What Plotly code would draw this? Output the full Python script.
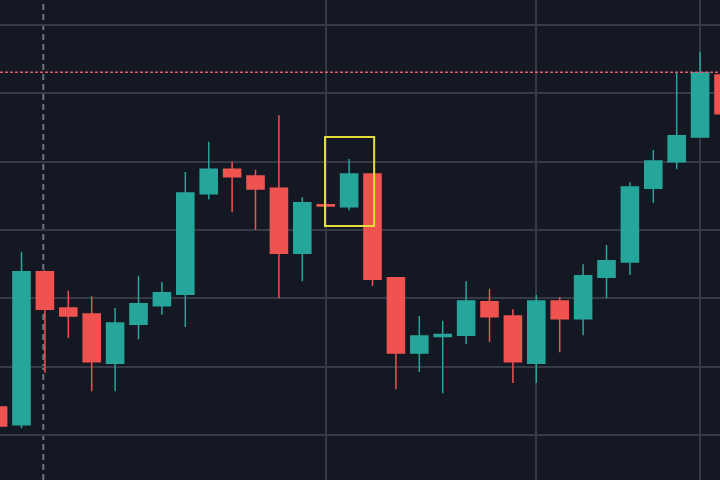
import plotly.graph_objects as go

# candle index and OHLC values (price units; grid every 1.0)
idx = list(range(32))
opens = [100.41, 100.15, 102.39, 101.86, 101.77, 101.05, 101.62, 101.89,
         102.06, 103.53, 103.89, 103.79, 103.61, 102.66, 103.37, 103.34,
         103.82, 102.30, 101.20, 101.44, 101.46, 101.95, 101.74, 101.05,
         101.96, 101.70, 102.31, 102.53, 103.61, 104.00, 104.36, 105.27]
highs = [100.43, 102.68, 102.41, 102.11, 102.03, 101.86, 102.33, 102.24,
         103.85, 104.29, 104.00, 103.88, 104.68, 103.48, 103.37, 104.04,
         103.82, 102.30, 101.74, 101.67, 102.25, 102.14, 101.84, 102.05,
         102.02, 102.50, 102.78, 103.70, 104.17, 105.30, 105.61, 105.29]
lows = [100.12, 100.10, 100.91, 101.42, 100.64, 100.64, 101.40, 101.76,
        101.58, 103.45, 103.26, 103.00, 102.00, 102.25, 103.35, 103.29,
        102.18, 100.67, 100.92, 100.61, 101.33, 101.36, 100.76, 100.76,
        101.21, 101.46, 102.00, 102.34, 103.40, 103.89, 104.35, 104.68]
closes = [100.13, 102.39, 101.84, 101.74, 101.07, 101.64, 101.92, 102.08,
          103.54, 103.89, 103.78, 103.60, 102.66, 103.40, 103.35, 103.82,
          102.28, 101.20, 101.45, 101.47, 101.96, 101.73, 101.07, 101.96,
          101.70, 102.33, 102.55, 103.63, 104.01, 104.38, 105.30, 104.70]

last_price = 105.31
grid_x = [14, 23, 30]
session_x = 2
highlight = 15

UP = "#26a69a"
DOWN = "#ef5350"
BG = "#141823"
GRID = "#363a46"

fig = go.Figure(go.Candlestick(
    x=idx, open=opens, high=highs, low=lows, close=closes,
    increasing=dict(line=dict(color=UP, width=1.5), fillcolor=UP),
    decreasing=dict(line=dict(color=DOWN, width=1.5), fillcolor=DOWN),
    whiskerwidth=0, showlegend=False, hoverinfo="skip",
))

# dashed session line
fig.add_shape(type="line", xref="x", yref="paper",
              x0=session_x - 0.07, x1=session_x - 0.07, y0=0, y1=1,
              line=dict(color="#70747e", width=2, dash="6px,4px"), layer="below")

# last price line
fig.add_shape(type="line", xref="paper", yref="y",
              x0=0, x1=1, y0=last_price, y1=last_price,
              line=dict(color="#e0606f", width=1.5, dash="3px,2px"))

# highlight box around one candle
fig.add_shape(type="rect", xref="x", yref="y",
              x0=highlight - 1.03, x1=highlight + 1.07,
              y0=lows[highlight] - 0.23, y1=highs[highlight] + 0.32,
              line=dict(color="#e3dc3a", width=2), fillcolor="rgba(0,0,0,0)")

fig.update_layout(
    width=720, height=480,
    margin=dict(l=0, r=0, t=0, b=0),
    paper_bgcolor=BG, plot_bgcolor=BG,
    boxgap=0.27, boxgroupgap=0,
    xaxis=dict(range=[0.081, 30.85], tickmode="array", tickvals=grid_x,
               showticklabels=False, showgrid=True, gridcolor=GRID,
               gridwidth=1.5, zeroline=False, rangeslider=dict(visible=False),
               fixedrange=True),
    yaxis=dict(range=[99.341, 106.366], tick0=100, dtick=1,
               showticklabels=False, showgrid=True, gridcolor=GRID,
               gridwidth=1.5, zeroline=False, fixedrange=True),
)

fig.write_html("out.html", config=dict(displayModeBar=False),
               post_script="document.body.style.margin='0';")
